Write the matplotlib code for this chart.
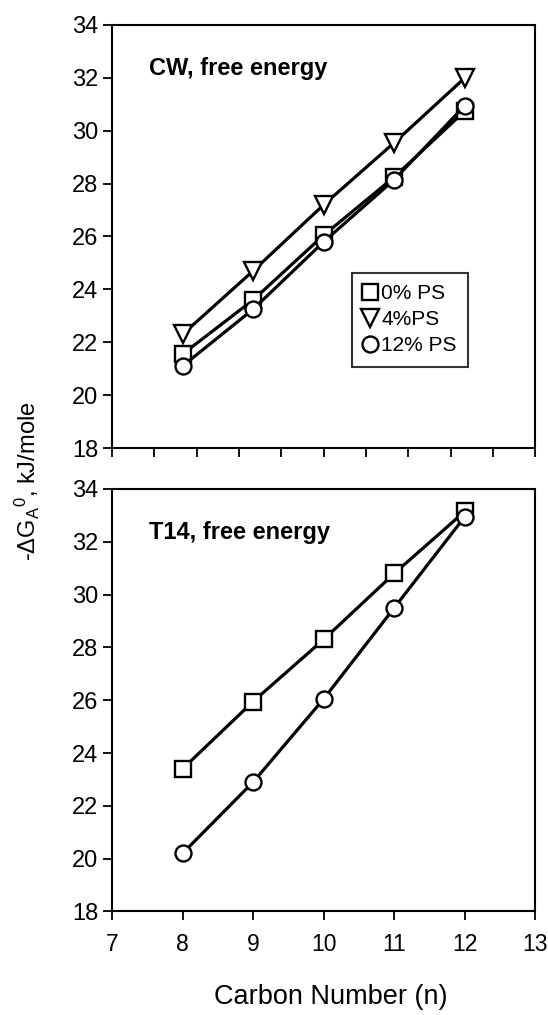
import numpy as np
import matplotlib
matplotlib.use('Agg')
import matplotlib.pyplot as plt

plt.rcParams['font.family'] = ['Liberation Sans', 'DejaVu Sans']
plt.rcParams['mathtext.fontset'] = 'custom'
plt.rcParams['mathtext.rm'] = 'Liberation Sans'
plt.rcParams['mathtext.it'] = 'Liberation Sans:italic'

# data
carbon = [8, 9, 10, 11, 12]

# CW, free energy
cw_0ps = [21.55, 23.6, 26.05, 28.25, 30.75]
cw_4ps = [22.3, 24.7, 27.2, 29.55, 32.0]
cw_12ps = [21.1, 23.25, 25.8, 28.15, 30.95]

# T14, free energy
t14_0ps = [23.4, 25.95, 28.3, 30.8, 33.15]
t14_12ps = [20.2, 22.9, 26.05, 29.5, 32.95]

yticks = [18, 20, 22, 24, 26, 28, 30, 32, 34]
xticks = [7, 8, 9, 10, 11, 12, 13]

fig = plt.figure(figsize=(5.48, 10.15), dpi=100)
ax1 = fig.add_axes([0.2044, 0.5586, 0.7726, 0.4168])
ax2 = fig.add_axes([0.2044, 0.1020, 0.7726, 0.4163])

mk = dict(color='black', lw=2.3, mfc='white', mec='black', mew=1.7, ms=11.5)

ax1.plot(carbon, cw_0ps, marker='s', label='0% PS', **mk)
ax1.plot(carbon, cw_4ps, marker='v', label='4%PS', **{**mk, 'ms': 13.5})
ax1.plot(carbon, cw_12ps, marker='o', label='12% PS', **mk)

ax2.plot(carbon, t14_0ps, marker='s', **mk)
ax2.plot(carbon, t14_12ps, marker='o', **mk)

for ax in (ax1, ax2):
    ax.set_xlim(7, 13)
    ax.set_ylim(18, 34)
    ax.set_yticks(yticks)
    ax.tick_params(axis='both', direction='out', length=6.5, width=1.3,
                   labelsize=17, pad=3.5)
    for s in ax.spines.values():
        s.set_linewidth(1.5)

ax1.set_xticks(np.linspace(7, 13, 11))
ax1.set_xticklabels([])
ax2.set_xticks(xticks)
ax2.tick_params(axis='x', pad=9, labelsize=16.5)

ax1.text(0.088, 0.898, 'CW, free energy', transform=ax1.transAxes,
         fontsize=17, fontweight='bold', va='center')
ax2.text(0.088, 0.896, 'T14, free energy', transform=ax2.transAxes,
         fontsize=17, fontweight='bold', va='center')

leg = ax1.legend(loc='upper left', bbox_to_anchor=(0.567, 0.414),
                 fontsize=15, frameon=True, fancybox=False,
                 edgecolor='black', handlelength=0.6, handletextpad=0.25,
                 borderpad=0.55, labelspacing=0.33, markerscale=1.0,
                 borderaxespad=0)
leg.get_frame().set_linewidth(1.5)
for h in leg.legend_handles:
    h.set_linestyle('none')

fig.text(0.051, 1 - 481 / 1015,
         r'-$\Delta$G$_\mathregular{A}$$^\mathregular{0}$, kJ/mole',
         rotation=90, fontsize=17, ha='center', va='center')
fig.text(0.604, 1 - 997 / 1015, 'Carbon Number (n)', fontsize=19.5,
         ha='center', va='center')

fig.savefig('out.png', dpi=100)
